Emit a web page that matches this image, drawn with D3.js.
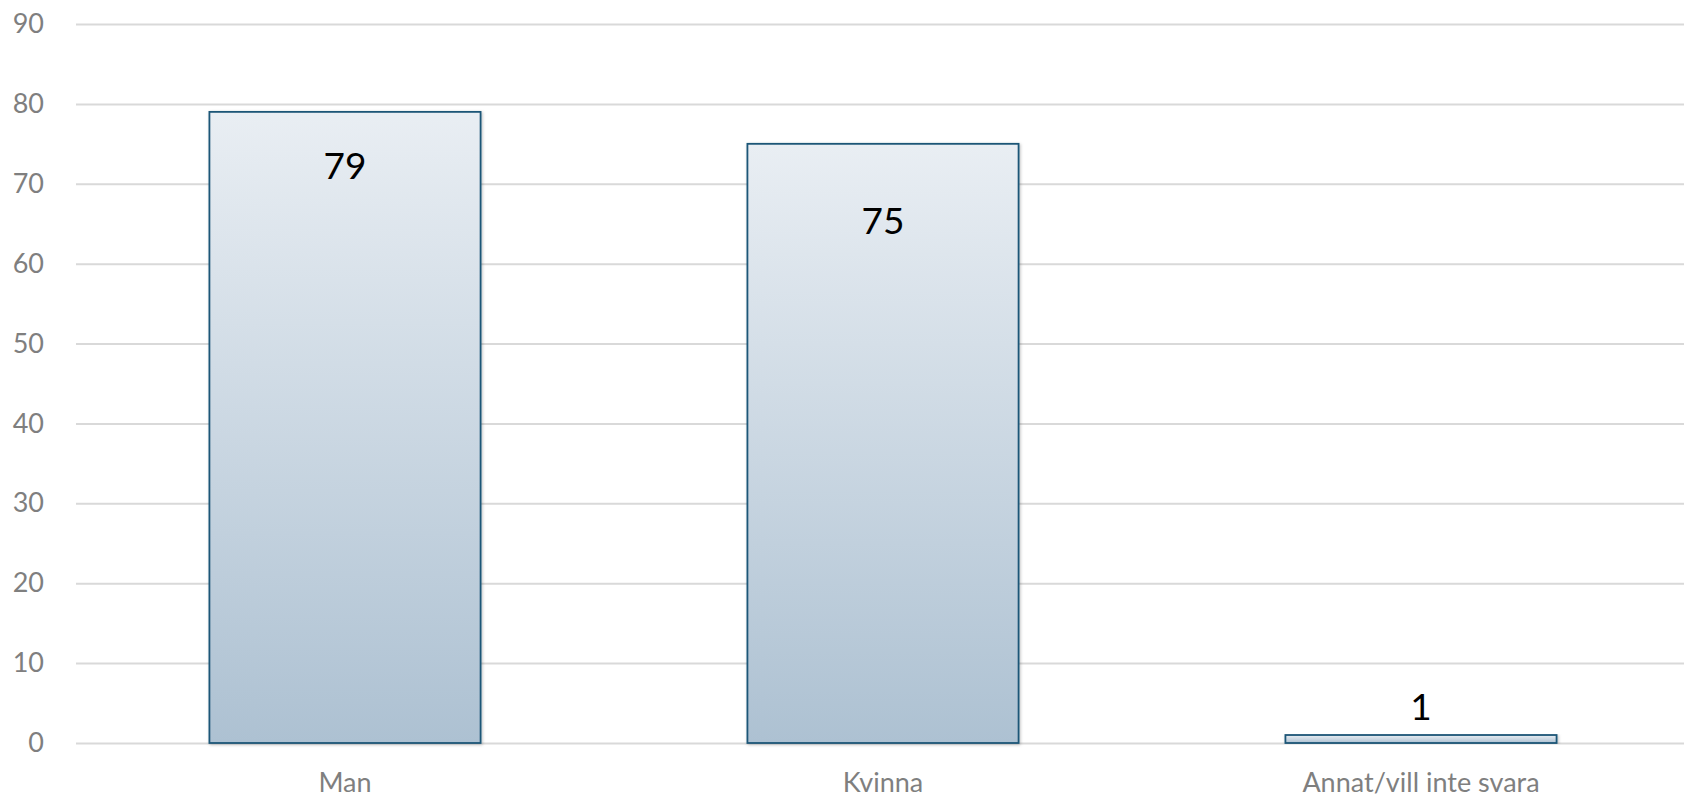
<!DOCTYPE html>
<html>
<head>
<meta charset="utf-8">
<script src="https://cdn.jsdelivr.net/npm/d3@7"></script>
<style>
  body { margin: 0; background: #fff; }
  text { font-family: Lato, "Open Sans", sans-serif; }
</style>
</head>
<body>
<div id="chart"></div>
<script>
// data
var categories = ["Man", "Kvinna", "Annat/vill inte svara"];
var values = [79, 75, 1];
var labelAt = [72.3, 65.4, 4.6];   // where each value label sits, in axis units
var yTicks = [0, 10, 20, 30, 40, 50, 60, 70, 80, 90];

var margin = {top: 24, right: -6, bottom: 56, left: 76},
    width = 1684 - margin.left - margin.right,
    height = 799 - margin.top - margin.bottom;

var svg = d3.select("#chart")
  .append("svg")
    .attr("width", 1684)
    .attr("height", 799)
    .style("display", "block")
  .append("g")
    .attr("transform", "translate(" + margin.left + "," + margin.top + ")");

// bar gradient + soft shadow
var defs = svg.append("defs");
var grad = defs.append("linearGradient")
    .attr("id", "barGrad")
    .attr("x1", 0).attr("y1", 0).attr("x2", 0).attr("y2", 1);
grad.append("stop").attr("offset", "0%").attr("stop-color", "#e9eef3");
grad.append("stop").attr("offset", "100%").attr("stop-color", "#adc1d2");
var shadow = defs.append("filter").attr("id", "shadow")
    .attr("x", "-10%").attr("y", "-10%").attr("width", "120%").attr("height", "120%");
shadow.append("feDropShadow")
    .attr("dx", 1).attr("dy", 1).attr("stdDeviation", 1.5)
    .attr("flood-color", "#000").attr("flood-opacity", 0.25);

var x = d3.scaleBand()
  .domain(categories)
  .range([0, width])
  .paddingInner(0.496)
  .paddingOuter(0.248);

var y = d3.scaleLinear()
  .domain([0, 90])
  .range([height, 0]);

// grid lines + y labels
var yAxis = svg.append("g")
  .call(d3.axisLeft(y).tickValues(yTicks).tickSize(-(width - 6)).tickPadding(32));
yAxis.select(".domain").remove();
yAxis.selectAll(".tick line").attr("stroke", "#d9d9d9").attr("stroke-width", 2);
yAxis.selectAll(".tick text")
  .attr("fill", "#7f7f7f")
  .style("font-size", "27px");

// x labels
var xAxis = svg.append("g")
  .attr("transform", "translate(0," + height + ")")
  .call(d3.axisBottom(x).tickSize(0).tickPadding(30));
xAxis.select(".domain").remove();
xAxis.selectAll(".tick text")
  .attr("fill", "#7f7f7f")
  .style("font-size", "27px");

// bars
svg.append("g")
  .selectAll("rect")
  .data(values)
  .enter().append("rect")
    .attr("x", function(d, i) { return x(categories[i]); })
    .attr("y", function(d) { return y(d); })
    .attr("width", x.bandwidth())
    .attr("height", function(d) { return y(0) - y(d); })
    .attr("fill", "url(#barGrad)")
    .attr("stroke", "#1d5677")
    .attr("stroke-width", 1.8)
    .attr("filter", "url(#shadow)");

// value labels
svg.append("g")
  .selectAll("text")
  .data(values)
  .enter().append("text")
    .attr("x", function(d, i) { return x(categories[i]) + x.bandwidth() / 2; })
    .attr("y", function(d, i) { return y(labelAt[i]); })
    .attr("dy", "0.36em")
    .attr("text-anchor", "middle")
    .attr("fill", "#000")
    .style("font-size", "37px")
    .text(function(d) { return d; });
</script>
</body>
</html>
